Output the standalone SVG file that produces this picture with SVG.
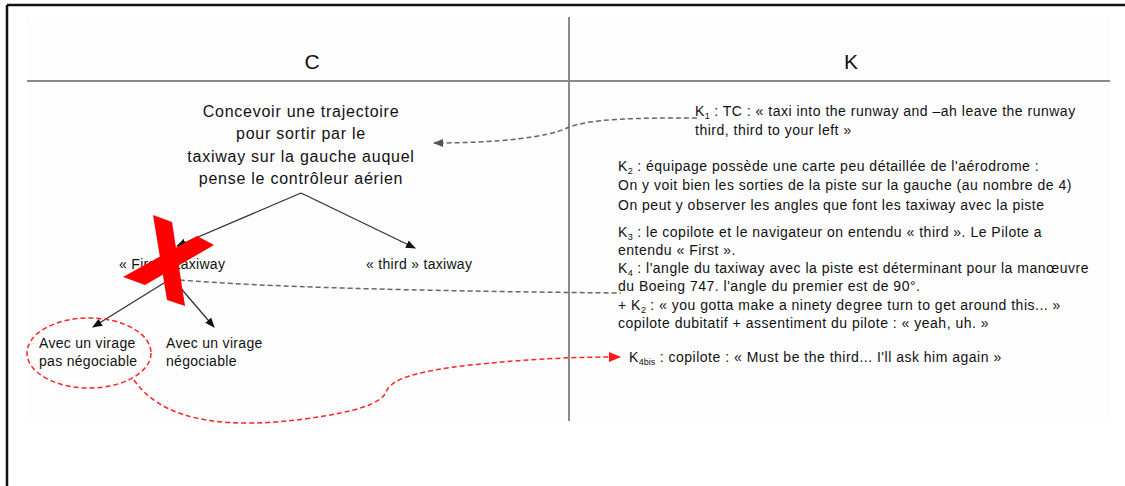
<svg xmlns="http://www.w3.org/2000/svg" width="1125" height="486" viewBox="0 0 1125 486">
<style>
text{font-family:"Liberation Sans",Arial,sans-serif;fill:#111}
.hd{font-size:21px;text-anchor:middle}
.main{font-size:16px;text-anchor:middle;letter-spacing:0.75px}
.lbl{font-size:14px;letter-spacing:0.3px}
.k{font-size:14px;letter-spacing:0.5px}
.sub{font-size:9px;letter-spacing:0}
.tree{stroke:#333;stroke-width:1.3;fill:none}
.gdash{stroke:#666;stroke-width:1.5;fill:none;stroke-dasharray:5 3}
.rdash{stroke:#ff2424;stroke-width:1.5;fill:none;stroke-dasharray:5 3}
.frame{stroke:#111;stroke-width:2.5}
.grid{stroke:#8a8a8a;stroke-width:2}
</style>
<defs>
<marker id="ab" markerWidth="10" markerHeight="8" refX="9" refY="4" orient="auto" markerUnits="userSpaceOnUse"><path d="M0,0 L10,4 L0,8 z" fill="#111"/></marker>
<marker id="ag" markerWidth="10" markerHeight="8" refX="9" refY="4" orient="auto" markerUnits="userSpaceOnUse"><path d="M0,0 L10,4 L0,8 z" fill="#555"/></marker>
<marker id="ar" markerWidth="12" markerHeight="10" refX="11" refY="5" orient="auto" markerUnits="userSpaceOnUse"><path d="M0,0 L12,5 L0,10 z" fill="#ff1a1a"/></marker>
</defs>
<rect width="1125" height="486" fill="#fff"/>
<rect x="27" y="17" width="1083" height="405" fill="#fdfdfd"/>
<g id="frame">
<line class="frame" x1="7" y1="5" x2="1125" y2="5"/>
<line class="frame" x1="7" y1="5" x2="7" y2="486"/>
<line class="grid" x1="27" y1="81" x2="1110" y2="81"/>
<line class="grid" x1="569" y1="17" x2="569" y2="421"/>
</g>
<g id="header-C"><text class="hd" x="312" y="69">C</text></g>
<g id="header-K"><text class="hd" x="851" y="69">K</text></g>
<g id="connectors">
<path class="tree" d="M301,193 L177,246" marker-end="url(#ab)"/>
<path class="tree" d="M301,193 L415,248" marker-end="url(#ab)"/>
<path class="tree" d="M172,278 L93,327" marker-end="url(#ab)"/>
<path class="tree" d="M172,278 L214,327" marker-end="url(#ab)"/>
<path class="gdash" d="M697,118 C640,118 590,118 567,128 C548,137 500,143 434,143" marker-end="url(#ag)"/>
<path class="gdash" d="M180,280 Q300,290 621,293"/>
<path class="rdash" d="M134,380 C165,425 235,428 305,419 C355,412 381,404 386,392 C391,378 420,371 470,365 C520,360 560,357 620,357" marker-end="url(#ar)"/>
</g>
<g id="node-goal">
<text class="main" x="301" y="117">Concevoir une trajectoire</text>
<text class="main" x="301" y="139">pour sortir par le</text>
<text class="main" x="301" y="162">taxiway sur la gauche auquel</text>
<text class="main" x="301" y="184">pense le contrôleur aérien</text>
</g>
<g id="node-first"><text class="lbl" x="119" y="269">« First » taxiway</text></g>
<g id="node-third"><text class="lbl" x="366" y="269">« third » taxiway</text></g>
<g id="node-nonneg">
<ellipse class="rdash" cx="89" cy="353" rx="62" ry="35"/>
<text class="lbl" x="39" y="348">Avec un virage</text>
<text class="lbl" x="39" y="366">pas négociable</text>
</g>
<g id="node-neg">
<text class="lbl" x="166" y="348">Avec un virage</text>
<text class="lbl" x="166" y="366">négociable</text>
</g>
<g id="node-K1">
<text class="k" x="695" y="116">K<tspan class="sub" dy="3">1</tspan><tspan dy="-3"> : TC : « taxi into the runway and –ah leave the runway</tspan></text>
<text class="k" x="695" y="135">third, third to your left »</text>
</g>
<g id="node-K2">
<text class="k" x="618" y="171">K<tspan class="sub" dy="3">2</tspan><tspan dy="-3"> : équipage possède une carte peu détaillée de l'aérodrome :</tspan></text>
<text class="k" x="618" y="190">On y voit bien les sorties de la piste sur la gauche (au nombre de 4)</text>
<text class="k" x="618" y="210">On peut y observer les angles que font les taxiway avec la piste</text>
</g>
<g id="node-K3">
<text class="k" x="618" y="237">K<tspan class="sub" dy="3">3</tspan><tspan dy="-3"> : le copilote et le navigateur on entendu « third ». Le Pilote a</tspan></text>
<text class="k" x="618" y="255">entendu « First ».</text>
</g>
<g id="node-K4">
<text class="k" x="618" y="273">K<tspan class="sub" dy="3">4</tspan><tspan dy="-3"> : l'angle du taxiway avec la piste est déterminant pour la manœuvre</tspan></text>
<text class="k" x="618" y="291">du Boeing 747. l'angle du premier est de 90°.</text>
<text class="k" x="618" y="310">+ K<tspan class="sub" dy="3">2</tspan><tspan dy="-3"> : « you gotta make a ninety degree turn to get around this... »</tspan></text>
<text class="k" x="618" y="328">copilote dubitatif + assentiment du pilote : « yeah, uh. »</text>
</g>
<g id="node-K4bis">
<text class="k" x="629" y="362">K<tspan class="sub" dy="3">4bis</tspan><tspan dy="-3"> : copilote : « Must be the third... I'll ask him again »</tspan></text>
</g>
<g id="cross">
<polygon points="153,215 172,222 185,306 167,300" fill="#ff0000"/>
<polygon points="123,277 197,236 214,245 145,285" fill="#ff0000"/>
</g>
</svg>
